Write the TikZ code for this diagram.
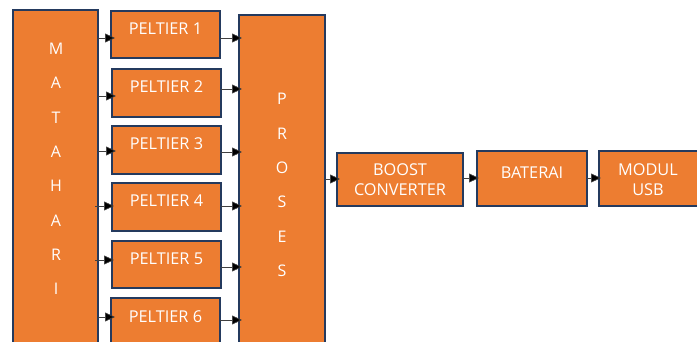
\documentclass[tikz,border=0pt]{standalone}
\usepackage{fontspec}
\setmainfont{Open Sans}
\usetikzlibrary{arrows.meta}
\definecolor{boxfill}{HTML}{ED7D31}
\definecolor{boxline}{HTML}{243A5E}
\definecolor{arrline}{HTML}{404040}
\tikzset{
  blk/.style={draw=boxline, line width=1.6pt, fill=boxfill},
  lbl/.style={text=white, font=\fontsize{16.3}{20}\selectfont, align=center, inner sep=0pt},
  vlbl/.style={text=white, font=\fontsize{16}{34.3}\selectfont, align=center, inner sep=0pt},
  arr/.style={draw=arrline, line width=0.7pt, -{Triangle[length=10pt,width=9pt,fill=black]}},
}
\begin{document}
\begin{tikzpicture}[x=1pt,y=-1pt]
\useasboundingbox (0,0) rectangle (697,342);
\clip (0,0) rectangle (697,342);
% blocks
\path[blk] (13,10) rectangle (98,360);
\path[blk] (239,15) rectangle (325,360);
\path[blk] (111,11) rectangle (220,58);
\path[blk] (112,69) rectangle (221,117);
\path[blk] (112,126) rectangle (221,174);
\path[blk] (112,183) rectangle (221,231);
\path[blk] (112,241) rectangle (221,288);
\path[blk] (111,298) rectangle (220,360);
\path[blk] (337,153) rectangle (463,206);
\path[blk] (477,151) rectangle (587,206);
\path[blk] (599,151) rectangle (710,206);
% labels
\node[vlbl] (mat) at (56,169) {M\\A\\T\\A\\H\\A\\R\\I};
\node[vlbl] (pro) at (282,185) {P\\R\\O\\S\\E\\S};
\node[lbl] (p1) at (165.5,29) {PELTIER 1};
\node[lbl] (p2) at (166.5,87) {PELTIER 2};
\node[lbl] (p3) at (166.5,144) {PELTIER 3};
\node[lbl] (p4) at (166.5,201) {PELTIER 4};
\node[lbl] (p5) at (166.5,259) {PELTIER 5};
\node[lbl] (p6) at (165.5,317) {PELTIER 6};
\node[lbl] (boost) at (400,180) {BOOST\\CONVERTER};
\node[lbl] (bat) at (532,173) {BATERAI};
\node[lbl] (usb) at (648,180) {MODUL\\USB};
% anchor coordinates
\coordinate (m1) at (98,38);  \coordinate (e1) at (115,38);
\coordinate (m2) at (98,96);  \coordinate (e2) at (116,96);
\coordinate (m3) at (98,151); \coordinate (e3) at (116,151);
\coordinate (m4) at (95,206); \coordinate (e4) at (114,206);
\coordinate (m5) at (95,260); \coordinate (e5) at (114,260);
\coordinate (m6) at (98,317); \coordinate (e6) at (115,317);
\coordinate (q1) at (220,38);  \coordinate (r1) at (242,38);
\coordinate (q2) at (221,89);  \coordinate (r2) at (242,89);
\coordinate (q3) at (221,152); \coordinate (r3) at (242,152);
\coordinate (q4) at (221,206); \coordinate (r4) at (242,206);
\coordinate (q5) at (221,267); \coordinate (r5) at (242,267);
\coordinate (q6) at (220,320); \coordinate (r6) at (242,320);
\coordinate (pa) at (325,179); \coordinate (pb) at (340,179);
\coordinate (ba) at (463,178); \coordinate (bb) at (479,178);
\coordinate (ua) at (587,178); \coordinate (ub) at (601,178);
\foreach \i in {1,...,6} {
  \draw[arr] (m\i) -- (e\i);
  \draw[arr] (q\i) -- (r\i);
}
\draw[arr] (pa) -- (pb);
\draw[arr] (ba) -- (bb);
\draw[arr] (ua) -- (ub);
\end{tikzpicture}
\end{document}
